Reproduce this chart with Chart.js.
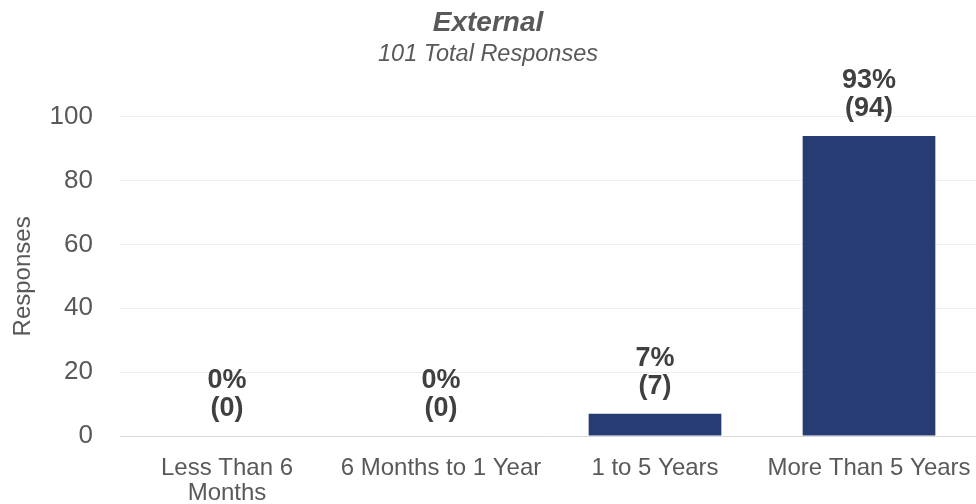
<!DOCTYPE html>
<html>
<head>
<meta charset="utf-8">
<script src="https://cdn.jsdelivr.net/npm/chart.js@4"></script>
<style>
  html, body { margin: 0; padding: 0; background: #ffffff; }
  #wrap { width: 976px; height: 504px; position: relative; }
</style>
</head>
<body>
<div id="wrap"><canvas id="c" width="976" height="504"></canvas></div>
<script>
const categories = [["Less Than 6", "Months"], "6 Months to 1 Year", "1 to 5 Years", "More Than 5 Years"];
const responses = [0, 0, 7, 94];
const percents = [0, 0, 7, 93];
const yTicks = [0, 20, 40, 60, 80, 100];
const titleText = "External";
const subtitleText = "101 Total Responses";
const yAxisTitle = "Responses";

const FONT = "'Liberation Sans', Arial, Helvetica, sans-serif";

const labelPlugin = {
  id: 'barLabels',
  afterDatasetsDraw(chart) {
    const ctx = chart.ctx;
    const meta = chart.getDatasetMeta(0);
    ctx.save();
    ctx.fillStyle = '#404040';
    ctx.font = 'bold 27px ' + FONT;
    ctx.textAlign = 'center';
    ctx.textBaseline = 'middle';
    meta.data.forEach((bar, i) => {
      const x = bar.x;
      const top = bar.y;
      ctx.fillText(percents[i] + '%', x, top - 55);
      ctx.fillText('(' + responses[i] + ')', x, top - 27);
    });
    ctx.restore();
  }
};

new Chart(document.getElementById('c'), {
  type: 'bar',
  data: {
    labels: categories,
    datasets: [{
      data: responses,
      backgroundColor: '#283C74',
      borderWidth: 0,
      categoryPercentage: 0.62,
      barPercentage: 1.0
    }]
  },
  options: {
    responsive: false,
    animation: false,
    devicePixelRatio: 1,
    layout: { padding: { left: 0, right: 0, top: 0, bottom: 0 } },
    plugins: {
      legend: { display: false },
      tooltip: { enabled: false },
      title: {
        display: true,
        text: titleText,
        color: '#595959',
        font: { family: FONT, size: 28, weight: 'bold', style: 'italic', lineHeight: 1.2 },
        padding: { top: 6, bottom: 1 }
      },
      subtitle: {
        display: true,
        text: subtitleText,
        color: '#595959',
        font: { family: FONT, size: 23.5, style: 'italic', lineHeight: 1.2 },
        padding: { top: 0, bottom: 48 }
      }
    },
    scales: {
      x: {
        grid: { display: false, drawTicks: false },
        border: { display: true, color: '#d9d9d9', width: 1 },
        ticks: {
          color: '#595959',
          font: { family: FONT, size: 24, lineHeight: 1.05 },
          padding: 20,
          maxRotation: 0,
          autoSkip: false
        },
        afterFit(scale) {
          scale.height = 68;
          scale.paddingLeft = 0;
          scale.paddingRight = 0;
        }
      },
      y: {
        min: 0,
        max: 100,
        afterBuildTicks(scale) { scale.ticks = yTicks.map(v => ({ value: v })); },
        grid: { color: '#eeeeee', lineWidth: 1, drawTicks: false },
        border: { display: false },
        ticks: {
          color: '#595959',
          font: { family: FONT, size: 26 },
          padding: 27
        },
        title: {
          display: true,
          text: yAxisTitle,
          color: '#595959',
          font: { family: FONT, size: 24 },
          padding: { top: 9, bottom: 6 }
        },
        afterFit(scale) {
          scale.width = 120;
          scale.paddingTop = 0;
          scale.paddingBottom = 0;
        }
      }
    }
  },
  plugins: [labelPlugin]
});
</script>
</body>
</html>
